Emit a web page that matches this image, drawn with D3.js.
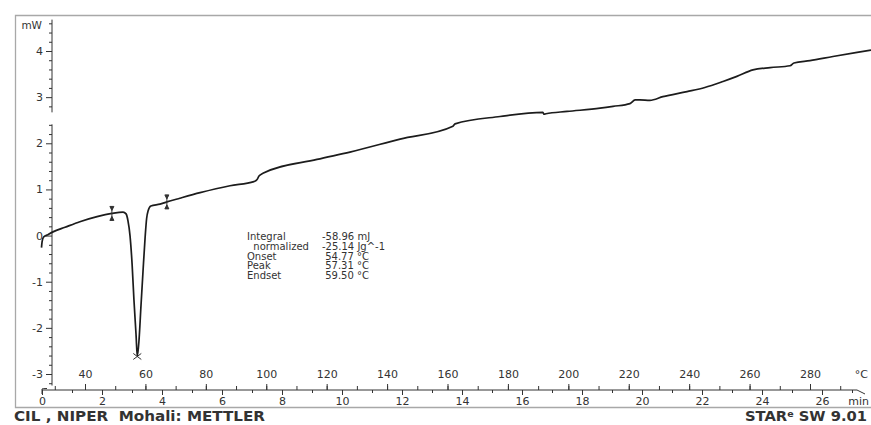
<!DOCTYPE html>
<html>
<head>
<meta charset="utf-8">
<script src="https://cdn.jsdelivr.net/npm/d3@7"></script>
<style>
body { margin: 0; background: #fff; }
text { font-family: "DejaVu Sans", Verdana, sans-serif; fill: #333; }
.pre { white-space: pre; }
</style>
</head>
<body>
<script>
var width = 871, height = 425;

// DSC trace: sample temperature (°C) and heat flow (mW)
var tempC = [25.6, 25.8, 26.3, 27.4, 29.4, 33.4, 38.3, 44.0, 48.9, 52.6, 53.6, 54.2, 54.9, 55.6, 56.2, 56.9, 57.31,
  57.9, 58.5, 59.2, 59.9, 60.4, 60.9, 61.8, 64.8, 67.1, 71.4, 78.1, 88.0, 95.9, 96.9, 97.6, 98.9, 116.8, 127.7,
  144.3, 161.8, 162.5, 177.4, 191.6, 191.9, 192.6, 199.6, 210.5, 214.8, 220.4, 222.1, 223.7, 227.0, 231.3, 239.3,
  245.2, 251.2, 255.8, 261.1, 266.8, 273.4, 274.7, 280.0, 287.6, 295.6, 300.2];
var heatFlow = [-0.26, -0.13, -0.03, 0.01, 0.08, 0.18, 0.30, 0.41, 0.48, 0.51, 0.47, 0.33, 0.0, -0.63, -1.39, -2.15, -2.62,
  -2.25, -1.56, -0.78, -0.04, 0.37, 0.54, 0.64, 0.68, 0.73, 0.81, 0.93, 1.08, 1.17, 1.21, 1.29, 1.35, 1.65, 1.81,
  2.09, 2.37, 2.42, 2.58, 2.67, 2.63, 2.64, 2.69, 2.76, 2.80, 2.86, 2.94, 2.94, 2.93, 3.01, 3.12,
  3.21, 3.34, 3.45, 3.59, 3.64, 3.68, 3.74, 3.79, 3.88, 3.97, 4.02];

// integration limits and peak
var limitsC = [48.9, 67.1];
var peakC = 57.31;

// axes
var tempTicks = d3.range(30, 300, 10);
var tempLabels = d3.range(40, 300, 20);
var timeTicks = d3.range(0, 28, 1);
var timeLabels = d3.range(0, 28, 2);
var flowLabels = [-3, -2, -1, 0, 1, 2, 3, 4];
var flowSteps = d3.range(-16, 24);
var axisPieces = [[4.68, 2.67], [2.41, -3.25]];

// result table
var resultNames = ["Integral", "  normalized", "Onset", "Peak", "Endset"];
var resultValues = ["-58.96 mJ", "-25.14 Jg^-1", " 54.77 °C", " 57.31 °C", " 59.50 °C"];

var svg = d3.select("body")
  .append("svg")
  .attr("width", width)
  .attr("height", height);

var xTemp = d3.scaleLinear().domain([40, 280]).range([85, 810]);
var xTime = d3.scaleLinear().domain([0, 26]).range([42, 822]);
var y = d3.scaleLinear().domain([-3, 4]).range([374, 51]);
var axisY = 390;

// frame
svg.append("path")
  .attr("d", "M871,15.5 H15.5 V407.5 H871")
  .attr("fill", "none")
  .attr("stroke", "#a8a8a8")
  .attr("stroke-width", 1.3);

// y axis
var yAxisG = svg.append("g").attr("transform", "translate(52,0)");
yAxisG.append("g")
  .call(d3.axisLeft(y)
    .tickValues(flowSteps.map(function(i) { return i / 5; })
      .filter(function(v) { return (v % 1 !== 0) && !(v > 2.45 && v < 2.75); }))
    .tickSize(3).tickFormat(""));
yAxisG.append("g")
  .call(d3.axisLeft(y).tickValues(flowLabels).tickSize(6).tickPadding(3).tickFormat(String));
yAxisG.selectAll(".domain").remove();
yAxisG.selectAll("line").attr("stroke", "#333");
yAxisG.selectAll("text").attr("font-size", 11).attr("fill", "#333")
  .attr("font-family", "'DejaVu Sans', Verdana, sans-serif");
yAxisG.selectAll(".piece")
  .data(axisPieces)
  .enter()
  .append("line")
  .attr("class", "piece")
  .attr("x1", 0).attr("x2", 0)
  .attr("y1", function(d) { return y(d[0]); })
  .attr("y2", function(d) { return y(d[1]); })
  .attr("stroke", "#333");

svg.append("text")
  .attr("x", 42).attr("y", 29)
  .attr("text-anchor", "end")
  .attr("font-size", 10.5)
  .text("mW");

// x axes: temperature above the line, time below
var xAxisG = svg.append("g").attr("transform", "translate(0," + axisY + ")");
xAxisG.append("g").call(d3.axisTop(xTemp).tickValues(tempTicks).tickSize(4).tickFormat(""));
xAxisG.append("g").call(d3.axisTop(xTemp).tickValues(tempLabels).tickSize(6).tickPadding(6).tickFormat(String));
xAxisG.append("g").call(d3.axisBottom(xTime).tickValues(timeTicks).tickSize(3).tickFormat(""));
xAxisG.append("g").call(d3.axisBottom(xTime).tickValues(timeLabels).tickSize(5).tickPadding(2).tickFormat(String));
xAxisG.selectAll(".domain").remove();
xAxisG.selectAll("line").attr("stroke", "#333");
xAxisG.selectAll("text").attr("font-size", 11).attr("fill", "#333")
  .attr("font-family", "'DejaVu Sans', Verdana, sans-serif");
xAxisG.append("path")
  .attr("d", "M42,4 V-1 Q42,-1.5 47,-1.5 M42,0 H857 L865,4")
  .attr("fill", "none").attr("stroke", "#333");

xAxisG.append("text").attr("x", 868).attr("y", -12).attr("text-anchor", "end")
  .attr("font-size", 11).text("°C");
xAxisG.append("text").attr("x", 869).attr("y", 15).attr("text-anchor", "end")
  .attr("font-size", 11).text("min");

// the trace
var pts = tempC.map(function(t, i) { return [t, heatFlow[i]]; });
var line = d3.line()
  .x(function(d) { return xTemp(d[0]); })
  .y(function(d) { return y(d[1]); })
  .curve(d3.curveMonotoneX);

svg.append("path")
  .datum(pts)
  .attr("d", line)
  .attr("fill", "none")
  .attr("stroke", "#1c1c1c")
  .attr("stroke-width", 1.7)
  .attr("stroke-linejoin", "round");

function flowAt(t) {
  var i = d3.bisectLeft(tempC, t);
  if (i <= 0) return heatFlow[0];
  var t0 = tempC[i - 1], t1 = tempC[i];
  return heatFlow[i - 1] + (heatFlow[i] - heatFlow[i - 1]) * (t - t0) / (t1 - t0);
}

// integration limit markers
var marks = svg.selectAll(".limit")
  .data(limitsC)
  .enter()
  .append("g")
  .attr("class", "limit")
  .attr("transform", function(d) { return "translate(" + xTemp(d) + "," + y(flowAt(d)) + ")"; });
marks.append("path")
  .attr("d", "M0,-7 V7 M-2,-7 L0,-3 L2,-7 Z M-2,7 L0,3 L2,7 Z")
  .attr("fill", "#333").attr("stroke", "#333").attr("stroke-width", 1);

// peak cross
svg.append("path")
  .attr("transform", "translate(" + xTemp(peakC) + "," + y(flowAt(peakC)) + ")")
  .attr("d", "M-4,-3 L4,3 M-4,3 L4,-3")
  .attr("stroke", "#333").attr("stroke-width", 1);

// results block
var res = svg.append("g").attr("transform", "translate(247,240)");
res.selectAll(".rname")
  .data(resultNames)
  .enter()
  .append("text")
  .attr("class", "rname pre")
  .attr("x", 0)
  .attr("y", function(d, i) { return i * 9.8; })
  .attr("font-size", 10)
  .attr("fill", "#444")
  .text(function(d) { return d; });
res.selectAll(".rval")
  .data(resultValues)
  .enter()
  .append("text")
  .attr("class", "rval pre")
  .attr("x", 75)
  .attr("y", function(d, i) { return i * 9.8; })
  .attr("font-size", 10)
  .attr("fill", "#444")
  .text(function(d) { return d; });

// footer
svg.append("text")
  .attr("class", "pre")
  .attr("x", 14).attr("y", 421)
  .attr("font-family", "'Liberation Sans', Arial, sans-serif")
  .attr("font-weight", "bold")
  .attr("font-size", 14.5)
  .attr("fill", "#222")
  .attr("textLength", 251)
  .attr("lengthAdjust", "spacingAndGlyphs")
  .text("CIL , NIPER  Mohali: METTLER");

var star = svg.append("text")
  .attr("x", 745).attr("y", 421)
  .attr("font-family", "'Liberation Sans', Arial, sans-serif")
  .attr("font-weight", "bold")
  .attr("font-size", 14)
  .attr("fill", "#222")
  .attr("textLength", 122)
  .attr("lengthAdjust", "spacingAndGlyphs");
star.append("tspan").text("STAR");
star.append("tspan").attr("font-size", 9).attr("dy", -4).text("e");
star.append("tspan").attr("dy", 4).text(" SW 9.01");
</script>
</body>
</html>
